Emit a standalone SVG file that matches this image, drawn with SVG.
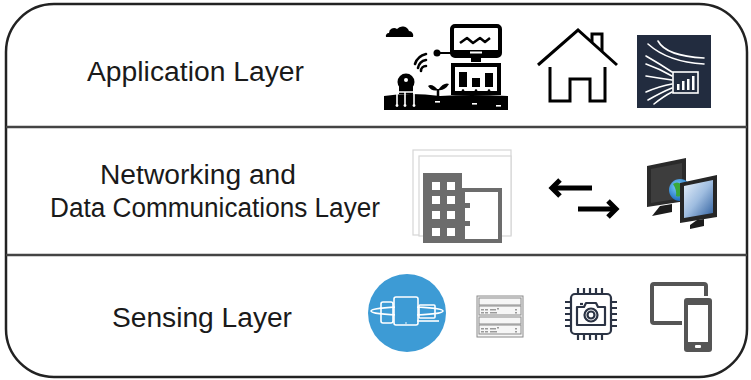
<svg xmlns="http://www.w3.org/2000/svg" width="751" height="380" viewBox="0 0 751 380">
  <defs>
    <style>
      .label { font-family: "Liberation Sans", Arial, sans-serif; font-size: 27px; fill: #1a1a1a; }
      .frame { fill: #ffffff; stroke: #222222; stroke-width: 2.5; }
      .divider { stroke: #444444; stroke-width: 2.5; }
      .blk { fill: #000000; }
      .wline { fill: none; stroke: #ffffff; stroke-linecap: round; }
    </style>
    <linearGradient id="screenGrad" x1="0" y1="0" x2="1" y2="1">
      <stop offset="0" stop-color="#e8f1fb"/>
      <stop offset="0.5" stop-color="#9fbde0"/>
      <stop offset="1" stop-color="#2f5f9e"/>
    </linearGradient>
    <radialGradient id="globeGrad" cx="0.4" cy="0.35" r="0.7">
      <stop offset="0" stop-color="#7fd0ff"/>
      <stop offset="1" stop-color="#1565b8"/>
    </radialGradient>
  </defs>

  <!-- outer frame and layer dividers -->
  <g id="frame">
    <rect class="frame" x="6" y="4" width="741" height="373" rx="48" ry="48"/>
    <line class="divider" x1="6" y1="127" x2="747" y2="127"/>
    <line class="divider" x1="6" y1="255" x2="747" y2="255"/>
  </g>

  <!-- layer names -->
  <g id="labels">
    <text class="label" x="87" y="81" textLength="217" lengthAdjust="spacingAndGlyphs">Application Layer</text>
    <text class="label" x="100" y="184" textLength="196" lengthAdjust="spacingAndGlyphs">Networking and</text>
    <text class="label" x="50" y="217" textLength="330" lengthAdjust="spacingAndGlyphs">Data Communications Layer</text>
    <text class="label" x="112" y="327" textLength="180" lengthAdjust="spacingAndGlyphs">Sensing Layer</text>
  </g>

  <!-- application layer: smart farm monitoring -->
  <g id="icon-farm">
    <path class="blk" d="M386,37 h27 a4.5,4.5 0 0 0 -4,-6 a7,7 0 0 0 -12,-2 a5,5 0 0 0 -8,4 a3,3 0 0 0 -3,4 z"/>
    <rect x="452" y="26" width="48" height="30" rx="3" fill="#fff" stroke="#000" stroke-width="4"/>
    <rect x="452" y="50" width="48" height="6" class="blk"/>
    <rect x="470" y="51.5" width="12" height="2" fill="#fff"/>
    <polyline points="460,43 467,38 473,43 480,38 485,42 490,38" fill="none" stroke="#000" stroke-width="2.5" stroke-linejoin="round"/>
    <rect x="471" y="58" width="10" height="4" class="blk"/>
    <circle cx="437" cy="53" r="3.5" class="blk"/>
    <line x1="437" y1="53" x2="452" y2="53" stroke="#000" stroke-width="2"/>
    <g fill="none" stroke="#000" stroke-width="2.6" stroke-linecap="round">
      <path d="M421,71 a5,5 0 0 1 5,-5"/>
      <path d="M418,68 a10,10 0 0 1 8,-8"/>
      <path d="M415,64 a15,15 0 0 1 11,-10"/>
    </g>
    <rect x="453" y="65" width="46" height="28" fill="#fff" stroke="#000" stroke-width="4"/>
    <rect x="459" y="72" width="8" height="15" class="blk"/>
    <rect x="472" y="78" width="8" height="9" class="blk"/>
    <rect x="485" y="73" width="8" height="14" class="blk"/>
    <circle cx="463" cy="90.5" r="1.3" class="blk"/>
    <circle cx="476" cy="90.5" r="1.3" class="blk"/>
    <circle cx="489" cy="90.5" r="1.3" class="blk"/>
    <path class="blk" d="M384,96 Q410,92 440,96 Q470,94 508,96 L508,110 L384,110 z"/>
    <circle cx="406" cy="82" r="8.5" class="blk"/>
    <circle cx="406" cy="80" r="2" fill="#fff"/>
    <rect x="399" y="84" width="14" height="10" class="blk"/>
    <path class="wline" stroke-width="1.6" d="M397,92 V104 M405,92 V104 M414,92 V104 M397,92 H414"/>
    <circle cx="397" cy="105.5" r="1.4" fill="#fff"/>
    <circle cx="405" cy="105.5" r="1.4" fill="#fff"/>
    <circle cx="414" cy="105.5" r="1.4" fill="#fff"/>
    <rect x="435" y="101" width="5" height="1.6" fill="#fff"/>
    <rect x="472" y="103" width="5" height="1.6" fill="#fff"/>
    <rect x="496" y="105" width="5" height="1.6" fill="#fff"/>
    <path d="M438,97 V89" stroke="#000" stroke-width="2.5" fill="none"/>
    <path class="blk" d="M438,90 Q432,83 428,86 Q432,92 438,90 z"/>
    <path class="blk" d="M438,90 Q444,82 449,84 Q445,91 438,90 z"/>
  </g>

  <!-- application layer: home -->
  <g id="icon-home" fill="none" stroke="#000" stroke-width="3" stroke-linejoin="miter">
    <path d="M538,65 L578,30 L617,65"/>
    <path d="M592,42 V34 H602 V51"/>
    <path d="M550,67 V101 H570 V79 H590 V101 H605 V67"/>
  </g>

  <!-- application layer: data insight panel -->
  <g id="icon-insight">
    <rect x="637" y="35" width="74" height="73" fill="#222c3f"/>
    <g class="wline" stroke-width="1.6">
      <path d="M658,41 Q666,56 704,58"/>
      <path d="M648,44 Q668,62 704,64"/>
      <path d="M646,56 Q660,64 672,72"/>
      <path d="M646,64 Q660,69 672,76"/>
      <path d="M646,76 Q658,78 672,80"/>
      <path d="M646,92 Q660,86 672,84"/>
      <path d="M648,100 Q662,92 672,88"/>
      <path d="M654,104 Q664,96 672,92"/>
    </g>
    <rect x="673" y="72" width="25" height="21" fill="none" stroke="#fff" stroke-width="1.6"/>
    <g fill="#fff">
      <rect x="677" y="84" width="2.5" height="6"/>
      <rect x="682" y="81" width="2.5" height="9"/>
      <rect x="687" y="79" width="2.5" height="11"/>
      <rect x="692" y="76" width="2.5" height="14"/>
    </g>
  </g>

  <!-- networking layer: enterprise -->
  <g id="icon-building">
    <rect x="413" y="150" width="98" height="85" fill="#fff" stroke="#d6d6d6" stroke-width="1.2"/>
    <rect x="419" y="156" width="92" height="80" fill="#fff" stroke="#d6d6d6" stroke-width="1.2"/>
    <rect x="423" y="173" width="39" height="70" fill="#6c6c6c"/>
    <rect x="463" y="190" width="37" height="51" fill="#fff" stroke="#6c6c6c" stroke-width="4"/>
    <g fill="#fff">
      <rect x="432" y="182" width="8" height="8"/>
      <rect x="447" y="182" width="8" height="8"/>
      <rect x="432" y="196" width="8" height="8"/>
      <rect x="447" y="196" width="8" height="8"/>
      <rect x="432" y="211" width="8" height="8"/>
      <rect x="447" y="211" width="8" height="8"/>
      <rect x="432" y="228" width="8" height="8"/>
      <rect x="447" y="228" width="8" height="8"/>
    </g>
    <rect x="462" y="203" width="8" height="5" fill="#6c6c6c"/>
    <rect x="462" y="221" width="8" height="5" fill="#6c6c6c"/>
  </g>

  <!-- networking layer: data exchange arrows -->
  <g id="icon-exchange" fill="none" stroke="#000" stroke-width="5" stroke-linecap="butt" stroke-linejoin="miter">
    <path d="M553,188 H592"/>
    <path d="M560,180 L552,188 L560,196"/>
    <path d="M578,209 H615"/>
    <path d="M608,201 L616,209 L608,217"/>
  </g>

  <!-- networking layer: connected computers -->
  <g id="icon-computers">
    <path d="M660,206 L672,204 L672,212 L652,216 z" fill="#1c1c1c"/>
    <path d="M647,166 L686,158 L686,201 L647,207 z" fill="#2a2a2a"/>
    <path d="M651,169 L682,163 L682,198 L651,203 z" fill="#3d3d3d"/>
    <circle cx="680" cy="190" r="11" fill="url(#globeGrad)"/>
    <path d="M673,184 Q677,181 681,184 Q679,190 684,193 Q680,198 676,196 Q677,190 673,184 z" fill="#3aa83a"/>
    <path d="M685,183 Q689,184 690,188 Q687,188 685,183 z" fill="#3aa83a"/>
    <path d="M697,220 L704,219 L704,226 L690,229 L690,225 z" fill="#1c1c1c"/>
    <path d="M680,183 L717,175 L717,217 L680,223 z" fill="#262626"/>
    <path d="M684,186 L713,180 L713,213 L684,218 z" fill="url(#screenGrad)"/>
  </g>

  <!-- sensing layer: device sync -->
  <g id="icon-devices-sync">
    <circle cx="407" cy="313" r="39" fill="#3d9bd5"/>
    <g fill="none" stroke="#fff" stroke-width="1.6">
      <rect x="381" y="302" width="12" height="21" rx="2"/>
      <rect x="419" y="305" width="16" height="13" rx="1"/>
      <path d="M416,321 H439"/>
      <ellipse cx="407" cy="311" rx="36" ry="4"/>
    </g>
    <rect x="395" y="299" width="22" height="24" fill="#3d9bd5"/>
    <rect x="394" y="297" width="24" height="28" rx="2" fill="none" stroke="#fff" stroke-width="1.6"/>
    <circle cx="406" cy="323" r="0.8" fill="#fff"/>
  </g>

  <!-- sensing layer: gateway rack -->
  <g id="icon-rack" stroke="#8a8a8a" stroke-width="1" fill="#f6f6f6">
    <rect x="477" y="296" width="46" height="41"/>
    <rect x="479" y="298" width="42" height="7"/>
    <rect x="479" y="306" width="42" height="9"/>
    <rect x="479" y="317" width="42" height="7"/>
    <rect x="479" y="325" width="42" height="9"/>
    <g fill="#9a9a9a" stroke="none">
      <rect x="481" y="309" width="3" height="1.5"/><rect x="485" y="309" width="3" height="1.5"/>
      <rect x="490" y="309" width="6" height="1.5"/><rect x="497" y="308" width="2" height="1.5"/>
      <rect x="481" y="312" width="3" height="1.5"/><rect x="485" y="312" width="3" height="1.5"/>
      <rect x="490" y="312" width="7" height="1.5"/>
      <rect x="515" y="309" width="2" height="1.5"/><rect x="515" y="312" width="2" height="1.5"/>
      <rect x="481" y="328" width="3" height="1.5"/><rect x="485" y="328" width="3" height="1.5"/>
      <rect x="490" y="328" width="6" height="1.5"/><rect x="497" y="327" width="2" height="1.5"/>
      <rect x="481" y="331" width="3" height="1.5"/><rect x="485" y="331" width="3" height="1.5"/>
      <rect x="490" y="331" width="7" height="1.5"/>
      <rect x="515" y="328" width="2" height="1.5"/><rect x="515" y="331" width="2" height="1.5"/>
    </g>
  </g>

  <!-- sensing layer: camera sensor chip -->
  <g id="icon-camera-chip" fill="none" stroke="#2b3344" stroke-width="2.2">
    <rect x="571" y="294" width="40" height="40" rx="4"/>
    <path d="M578,288 V294 M584,288 V294 M590,288 V294 M596,288 V294 M602,288 V294"/>
    <path d="M578,334 V340 M584,334 V340 M590,334 V340 M596,334 V340 M602,334 V340"/>
    <path d="M565,302 H571 M565,308 H571 M565,314 H571 M565,320 H571 M565,326 H571"/>
    <path d="M611,302 H617 M611,308 H617 M611,314 H617 M611,320 H617 M611,326 H617"/>
    <path d="M577,307 H584 L586,303 H596 L598,307 H605 V325 H577 z" stroke-linejoin="round"/>
    <circle cx="591" cy="315" r="6.5"/>
    <circle cx="591" cy="315" r="3.5"/>
    <path d="M580,304 H583"/>
  </g>

  <!-- sensing layer: mobile devices -->
  <g id="icon-mobile">
    <rect x="652" y="284" width="54" height="39" rx="2" fill="none" stroke="#555555" stroke-width="4"/>
    <rect x="682" y="296" width="32" height="58" rx="4" fill="#ffffff"/>
    <rect x="684" y="298" width="28" height="54" rx="3" fill="#555555"/>
    <rect x="688" y="305" width="20" height="37" fill="#ffffff"/>
    <rect x="695" y="345" width="6" height="3" rx="1" fill="#ffffff"/>
  </g>
</svg>
